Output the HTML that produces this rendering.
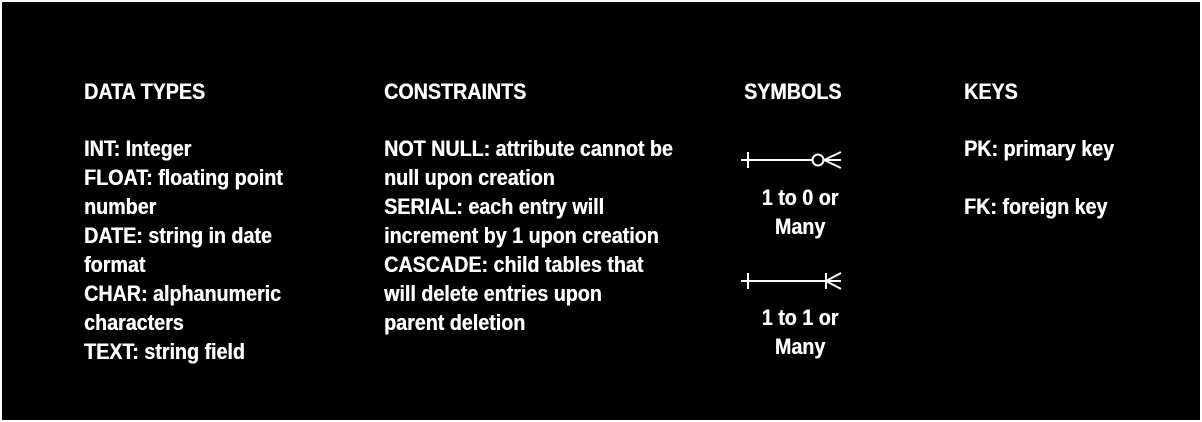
<!DOCTYPE html>
<html><head><style>
html,body{margin:0;padding:0;background:#fff;}
#c{position:absolute;left:2px;top:2px;width:1198px;height:418px;background:#000;}
.t{position:absolute;color:#fff;font-family:"Liberation Sans Narrow","Liberation Sans",sans-serif;font-weight:bold;font-size:22px;line-height:29px;white-space:pre;transform-origin:0 0;transform:scaleX(0.895);text-shadow:0.4px 0 0 #fff;}
.m{transform-origin:60px 0;}
</style></head><body>
<div id="c"></div>
<div class="t" style="left:84px;top:77px;">DATA TYPES</div>
<div class="t" style="left:84px;top:134px;">INT: Integer
FLOAT: floating point
number
DATE: string in date
format
CHAR: alphanumeric
characters
TEXT: string field</div>
<div class="t" style="left:384px;top:77px;">CONSTRAINTS</div>
<div class="t" style="left:384px;top:134px;">NOT NULL: attribute cannot be
null upon creation
SERIAL: each entry will
increment by 1 upon creation
CASCADE: child tables that
will delete entries upon
parent deletion</div>
<div class="t" style="left:744px;top:77px;">SYMBOLS</div>
<div class="t m" style="left:740px;top:183px;width:120px;text-align:center;">1 to 0 or
Many</div>
<div class="t m" style="left:740px;top:303px;width:120px;text-align:center;">1 to 1 or
Many</div>
<div class="t" style="left:964px;top:77px;">KEYS</div>
<div class="t" style="left:964px;top:134px;">PK: primary key

FK: foreign key</div>
<svg style="position:absolute;left:0;top:0" width="1202" height="422">
<g stroke="#fff" stroke-width="2" fill="none">
<line x1="741" y1="160" x2="812" y2="160"/>
<line x1="748" y1="152" x2="748" y2="168"/>
<circle cx="818" cy="160" r="5.5"/>
<line x1="824" y1="160" x2="841" y2="160"/>
<line x1="824" y1="160" x2="841" y2="152"/>
<line x1="824" y1="160" x2="841" y2="168"/>
<line x1="741" y1="281" x2="841" y2="281"/>
<line x1="748" y1="273" x2="748" y2="289"/>
<line x1="826" y1="273" x2="826" y2="289"/>
<line x1="826" y1="281" x2="841" y2="273"/>
<line x1="826" y1="281" x2="841" y2="289"/>
</g></svg>
</body></html>
